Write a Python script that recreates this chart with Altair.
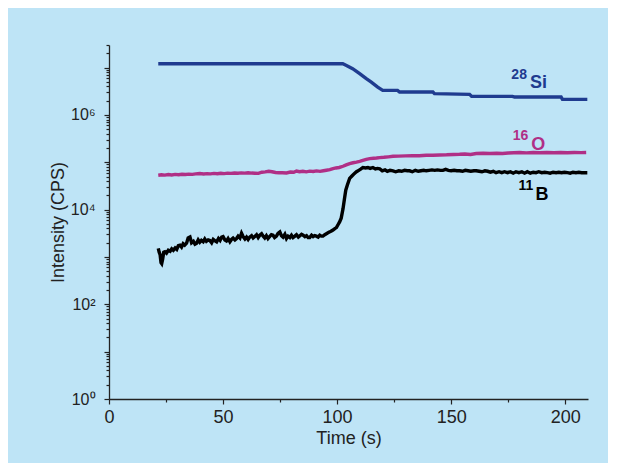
import altair as alt
import pandas as pd

# ---- data (time in s, intensity as log10 CPS) ----
si_time = [21.6, 102.5, 104.1, 106.8, 109.9, 112.8, 115.0, 117.8, 120.0, 126.5, 127.4,
           142.0, 142.7, 158.1, 159.0, 176.9, 177.8, 198.2, 198.8, 209.7]
si_log = [7.082, 7.082, 7.046, 6.977, 6.871, 6.766, 6.694, 6.589, 6.519, 6.519, 6.483,
          6.483, 6.449, 6.435, 6.392, 6.392, 6.378, 6.378, 6.329, 6.329]

o_time = [21.6, 23.0, 24.5, 26.0, 27.5, 29.0, 30.5, 32.0, 33.5, 35.0, 36.5, 38.0, 39.8,
          41.5, 43.0, 44.5, 46.0, 47.5, 49.0, 50.5, 52.0, 53.5, 55.0, 56.5, 58.0, 59.5,
          61.0, 62.5, 64.0, 65.5, 67.0, 68.5, 70.0, 71.5, 73.0, 74.5, 76.0, 77.8, 79.5,
          81.0, 82.2, 83.5, 85.0, 86.5, 88.0, 89.5, 91.0, 92.5, 94.0, 95.3, 96.8, 98.2,
          99.5, 100.9, 102.6, 104.0, 105.5, 107.0, 108.5, 109.9, 111.3, 112.8, 114.3,
          116.0, 117.3, 118.7, 120.5, 122.5, 124.5, 127.0, 130.0, 133.0, 136.0, 139.1,
          142.0, 145.0, 148.0, 151.0, 153.7, 156.0, 158.5, 161.0, 164.0, 167.0, 170.0,
          172.5, 175.0, 177.5, 179.9, 183.0, 186.0, 189.0, 192.0, 195.0, 198.0, 201.0,
          204.0, 207.0, 209.2]
o_log = [4.726, 4.735, 4.728, 4.740, 4.733, 4.745, 4.738, 4.748, 4.742, 4.750, 4.745,
         4.755, 4.762, 4.752, 4.760, 4.755, 4.765, 4.758, 4.768, 4.760, 4.770, 4.765,
         4.774, 4.768, 4.776, 4.770, 4.778, 4.772, 4.768, 4.765, 4.790, 4.798, 4.810,
         4.800, 4.785, 4.778, 4.780, 4.774, 4.795, 4.790, 4.816, 4.800, 4.810, 4.798,
         4.812, 4.805, 4.818, 4.808, 4.820, 4.831, 4.845, 4.867, 4.880, 4.890, 4.916,
         4.945, 4.973, 4.990, 5.005, 5.021, 5.040, 5.060, 5.078, 5.085, 5.090, 5.099,
         5.105, 5.115, 5.127, 5.130, 5.135, 5.140, 5.138, 5.148, 5.150, 5.155, 5.158,
         5.165, 5.169, 5.175, 5.165, 5.184, 5.190, 5.185, 5.192, 5.184, 5.195, 5.200,
         5.205, 5.198, 5.205, 5.200, 5.207, 5.202, 5.205, 5.200, 5.207, 5.203, 5.205]

b_time = [21.6, 22.0, 22.4, 22.8, 23.1, 23.5, 24.0, 24.5, 25.2, 26.0, 26.8, 27.5, 28.2,
          29.0, 29.7, 30.4, 31.1, 31.8, 32.5, 33.2, 34.0, 34.7, 35.5, 36.2, 37.0, 37.7,
          38.4, 39.1, 39.8, 40.5, 41.3, 42.0, 42.7, 43.5, 44.2, 45.0, 45.7, 46.5, 47.2,
          48.0, 48.7, 49.4, 50.0, 50.8, 51.5, 52.2, 53.0, 53.7, 54.4, 55.2, 55.9, 56.6,
          57.4, 58.1, 58.8, 59.6, 60.3, 61.0, 61.7, 62.5, 63.2, 63.9, 64.7, 65.4, 66.1,
          66.9, 67.6, 68.3, 69.0, 69.7, 70.4, 71.2, 71.9, 72.6, 73.4, 74.1, 74.9, 75.6,
          76.3, 77.1, 77.8, 78.5, 79.3, 80.0, 80.7, 81.5, 82.2, 83.0, 83.7, 84.4, 85.1,
          85.9, 86.6, 87.3, 88.0, 88.8, 89.5, 90.2, 90.9, 91.7, 92.4, 93.1, 93.8, 94.6,
          95.3, 96.0, 96.8, 97.5, 98.2, 99.0, 99.7, 100.4, 101.1, 101.8, 102.6, 103.2,
          103.8, 104.5, 105.5, 106.5, 107.5, 108.5, 109.5, 110.5, 111.3, 112.5, 113.5,
          114.5, 115.7, 116.8, 117.7, 118.7, 119.8, 121.0, 122.0, 123.2, 124.5, 125.7,
          127.0, 128.3, 129.6, 130.8, 131.8, 133.0, 134.3, 135.6, 136.8, 138.0, 139.1,
          140.3, 141.6, 142.8, 144.0, 145.3, 146.4, 147.6, 148.8, 150.0, 151.3, 152.5,
          153.7, 155.0, 156.2, 157.4, 158.6, 160.0, 161.0, 162.3, 163.5, 164.8, 166.0,
          167.2, 168.5, 169.7, 171.0, 172.2, 173.4, 174.7, 176.0, 177.2, 178.4, 179.7,
          181.0, 182.2, 183.4, 184.7, 186.0, 187.2, 188.4, 189.7, 191.0, 192.2, 193.4,
          194.7, 196.0, 197.2, 198.4, 199.7, 201.0, 202.2, 203.4, 204.7, 206.0, 207.2,
          209.7]
b_log = [3.18, 3.10, 3.05, 2.88, 2.86, 2.95, 3.10, 3.11, 3.08, 3.14, 3.12, 3.17, 3.14,
         3.19, 3.16, 3.24, 3.25, 3.21, 3.28, 3.25, 3.29, 3.40, 3.42, 3.30, 3.33, 3.27,
         3.29, 3.36, 3.31, 3.35, 3.32, 3.38, 3.33, 3.36, 3.35, 3.30, 3.37, 3.34, 3.32,
         3.39, 3.35, 3.42, 3.43, 3.36, 3.34, 3.39, 3.32, 3.37, 3.40, 3.36, 3.39, 3.44,
         3.40, 3.50, 3.43, 3.38, 3.42, 3.37, 3.42, 3.45, 3.40, 3.43, 3.47, 3.41, 3.46,
         3.49, 3.44, 3.40, 3.45, 3.39, 3.43, 3.47, 3.46, 3.41, 3.44, 3.50, 3.53, 3.45,
         3.42, 3.48, 3.39, 3.44, 3.41, 3.46, 3.41, 3.44, 3.47, 3.42, 3.45, 3.48, 3.46,
         3.43, 3.45, 3.41, 3.41, 3.46, 3.43, 3.45, 3.44, 3.42, 3.46, 3.44, 3.44, 3.47,
         3.49, 3.51, 3.53, 3.55, 3.57, 3.60, 3.62, 3.68, 3.74, 3.82, 4.02, 4.22,
         4.41, 4.52, 4.66, 4.71, 4.76, 4.80, 4.83, 4.86, 4.89, 4.88, 4.89,
         4.87, 4.89, 4.86, 4.87, 4.86, 4.82, 4.84, 4.81, 4.83, 4.82, 4.80,
         4.82, 4.81, 4.83, 4.82, 4.82, 4.80, 4.83, 4.81, 4.82, 4.83, 4.82,
         4.83, 4.84, 4.83, 4.84, 4.83, 4.83, 4.85, 4.83, 4.82, 4.83, 4.82,
         4.82, 4.81, 4.83, 4.82, 4.81, 4.82, 4.82, 4.81, 4.80, 4.82, 4.81,
         4.79, 4.81, 4.78, 4.80, 4.78, 4.80, 4.78, 4.80, 4.77, 4.80, 4.78,
         4.80, 4.77, 4.80, 4.77, 4.79, 4.78, 4.80, 4.78, 4.79, 4.78, 4.77,
         4.79, 4.78, 4.79, 4.78, 4.79, 4.78, 4.77, 4.79, 4.78, 4.79, 4.78,
         4.78]

series_names = ["Si", "O", "B"]
series_colors = ["#1f3b8f", "#b02f86", "#000000"]

label_mass = ["28", "16", "11"]
label_symbol = ["Si", "O", "B"]
mass_time = [176.4, 177.0, 179.5]
mass_cps = [5.84e6, 2.91e5, 2.57e4]
symbol_time = [184.6, 185.1, 187.0]
symbol_cps = [3.77e6, 1.79e5, 1.58e4]

# ---- build tables ----
rows = []
for name, ts, ls in [("Si", si_time, si_log), ("O", o_time, o_log), ("B", b_time, b_log)]:
    for i, (t, v) in enumerate(zip(ts, ls)):
        rows.append({"series": name, "time": t, "cps": 10 ** v, "idx": i})
df = pd.DataFrame(rows)

mass_df = pd.DataFrame({"series": series_names, "text": label_mass,
                        "time": mass_time, "cps": mass_cps})
sym_df = pd.DataFrame({"series": series_names, "text": label_symbol,
                       "time": symbol_time, "cps": symbol_cps})

FONT = "Liberation Sans"
color_scale = alt.Scale(domain=series_names, range=series_colors)
x_scale = alt.Scale(domain=[0, 210], nice=False, zero=False)
y_scale = alt.Scale(type="log", domain=[1, 3e7], nice=False)

y_values = [m * 10 ** k for k in range(8) for m in range(1, 10) if m * 10 ** k <= 3 * 10 ** 7]

x_axis = alt.Axis(
    values=list(range(0, 201, 25)),
    labelExpr="datum.value % 50 == 0 ? datum.label : ''",
    tickSize={"condition": {"test": "datum.value % 50 == 0", "value": 5}, "value": 3},
    title="Time (s)", grid=False, labelOverlap=False, labelFlush=False,
    labelFontSize=18, titleFontSize=18, titleFontWeight="normal",
    labelPadding=4, titlePadding=3,
)
y_axis = alt.Axis(
    values=y_values,
    labelExpr="datum.value == 1 ? '10⁰' : datum.value == 100 ? '10²' : "
              "datum.value == 10000 ? '10⁴' : datum.value == 1000000 ? '10⁶' : ''",
    tickSize={"condition": {"test": "indexof([1,10,100,1000,10000,100000,1000000,10000000], datum.value) >= 0",
                            "value": 5}, "value": 3},
    title="Intensity (CPS)", grid=False, labelOverlap=False, labelFlush=False,
    labelFontSize=16, titleFontSize=18, titleFontWeight="normal",
    labelPadding=9, titlePadding=3,
)

lines = alt.Chart(df).mark_line(strokeWidth=3.4, interpolate="linear").encode(
    x=alt.X("time:Q", scale=x_scale, axis=x_axis),
    y=alt.Y("cps:Q", scale=y_scale, axis=y_axis),
    color=alt.Color("series:N", scale=color_scale, legend=None),
    detail="series:N",
    order="idx:Q",
)

mass_text = alt.Chart(mass_df).mark_text(
    font=FONT, fontSize=14, fontWeight="bold", align="left", baseline="alphabetic"
).encode(
    x=alt.X("time:Q", scale=x_scale),
    y=alt.Y("cps:Q", scale=y_scale),
    text="text:N",
    color=alt.Color("series:N", scale=color_scale, legend=None),
)

sym_text = alt.Chart(sym_df).mark_text(
    font=FONT, fontSize=18, fontWeight="bold", align="left", baseline="alphabetic"
).encode(
    x=alt.X("time:Q", scale=x_scale),
    y=alt.Y("cps:Q", scale=y_scale),
    text="text:N",
    color=alt.Color("series:N", scale=color_scale, legend=None),
)

chart = alt.layer(lines, mass_text, sym_text).properties(
    width=479, height=354,
    background="#bee4f6",
    padding={"left": 101, "top": 37, "right": 20, "bottom": 64},
    autosize=alt.AutoSizeParams(type="none"),
).configure_view(stroke=None).configure_axis(
    labelFont=FONT, titleFont=FONT, labelColor="#222222", titleColor="#222222",
    domainColor="#222222", tickColor="#222222", domainWidth=1.3, tickWidth=1.2,
)

chart.save("out.html", embed_options={"renderer": "svg", "actions": False})
